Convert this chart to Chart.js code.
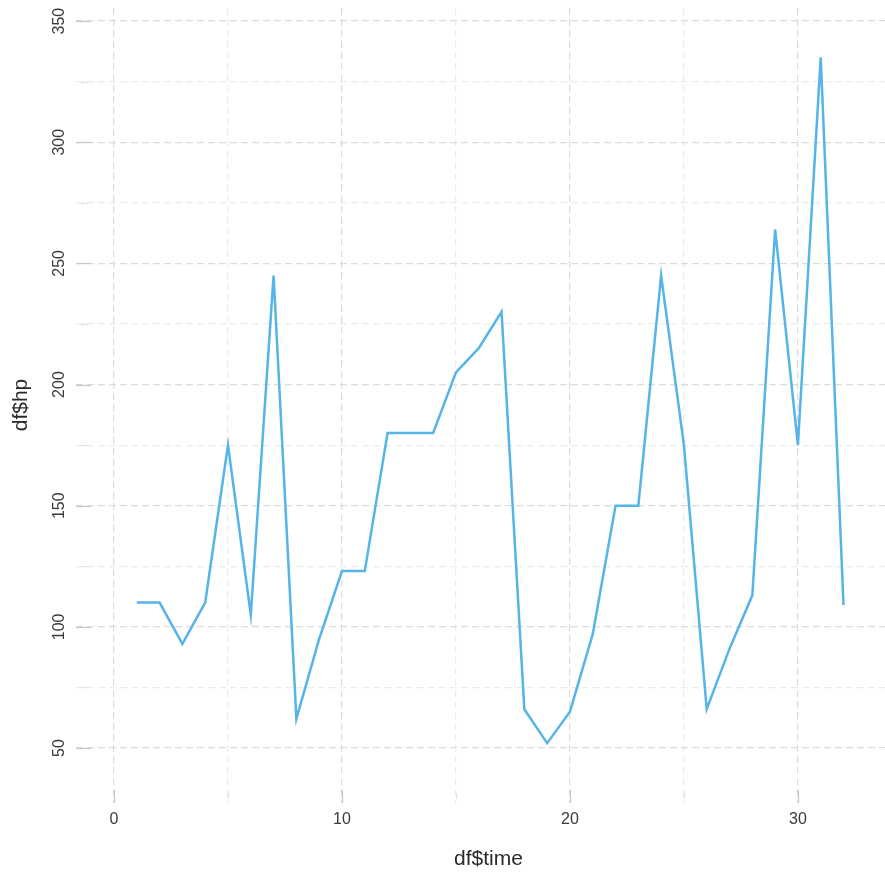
<!DOCTYPE html>
<html><head><meta charset="utf-8">
<script src="https://cdn.jsdelivr.net/npm/chart.js@4/dist/chart.umd.min.js"></script>
<style>html,body{margin:0;padding:0;background:#fff}#wrap{width:885px;height:873px}</style>
</head><body><div id="wrap"><canvas id="c" width="885" height="873"></canvas></div>
<script>
const time = [1,2,3,4,5,6,7,8,9,10,11,12,13,14,15,16,17,18,19,20,21,22,23,24,25,26,27,28,29,30,31,32];
const hp = [110,110,93,110,175,105,245,62,95,123,123,180,180,180,205,215,230,66,52,65,97,150,150,245,175,66,91,113,264,175,335,109];
const xTicks = [0,10,20,30];
const yTicks = [50,100,150,200,250,300,350];
const xTitle = 'df$time';
const yTitle = 'df$hp';

const FONT = '"Liberation Sans", Arial, sans-serif';

const decor = {
  id: 'decor',
  beforeDatasetsDraw(chart) {
    const ctx = chart.ctx, a = chart.chartArea, xs = chart.scales.x, ys = chart.scales.y;
    ctx.save();
    ctx.setLineDash([]);
    for (let v = 25; v <= 350; v += 25) {
      const y = Math.round(ys.getPixelForValue(v)) + 0.5;
      if (y < a.top || y > a.bottom) continue;
      const major = v % 50 === 0;
      ctx.strokeStyle = major ? '#c8c8c8' : '#e2e2e2';
      ctx.lineWidth = 1.2;
      ctx.beginPath();
      ctx.moveTo(a.left + (major ? 0 : 5), y);
      ctx.lineTo(a.left + (major ? 15 : 12), y);
      ctx.stroke();
    }
    for (let v = 0; v <= 35; v += 5) {
      const x = Math.round(xs.getPixelForValue(v)) + 0.5;
      if (x < a.left || x > a.right) continue;
      const major = v % 10 === 0;
      ctx.strokeStyle = major ? '#c8c8c8' : '#e2e2e2';
      ctx.lineWidth = 1.2;
      ctx.beginPath();
      ctx.moveTo(x, a.bottom - (major ? 13 : 10));
      ctx.lineTo(x, a.bottom - (major ? 0 : 4));
      ctx.stroke();
    }
    ctx.restore();
  },
  afterDraw(chart) {
    const ctx = chart.ctx, xs = chart.scales.x, ys = chart.scales.y;
    ctx.save();
    ctx.fillStyle = '#3a3a3a';
    ctx.font = '16px ' + FONT;
    ctx.textAlign = 'center';
    ctx.textBaseline = 'middle';
    xTicks.forEach(v => ctx.fillText(String(v), xs.getPixelForValue(v), 820));
    yTicks.forEach(v => {
      ctx.save();
      ctx.translate(60, ys.getPixelForValue(v));
      ctx.rotate(-Math.PI / 2);
      ctx.fillText(String(v), 0, 0);
      ctx.restore();
    });
    ctx.font = '21px ' + FONT;
    ctx.fillStyle = '#2a2a2a';
    ctx.fillText(xTitle, 488.5, 859);
    ctx.save();
    ctx.translate(21, 405);
    ctx.rotate(-Math.PI / 2);
    ctx.fillText(yTitle, 0, 0);
    ctx.restore();
    ctx.restore();
  }
};

new Chart(document.getElementById('c'), {
  type: 'scatter',
  data: {
    datasets: [{
      data: time.map((t, i) => ({x: t, y: hp[i]})),
      showLine: true,
      borderColor: '#56B4E9',
      borderWidth: 2.5,
      pointRadius: 0,
      tension: 0,
      fill: false
    }]
  },
  options: {
    responsive: false,
    animation: false,
    devicePixelRatio: 1,
    layout: { padding: { left: 76, right: 0, top: 8, bottom: 70 } },
    plugins: { legend: { display: false }, tooltip: { enabled: false } },
    scales: {
      x: {
        type: 'linear', min: -1.667, max: 33.82,
        afterBuildTicks: s => { s.ticks = [0,5,10,15,20,25,30].map(v => ({value: v})); },
        ticks: { display: false },
        grid: {
          drawTicks: false,
          color: c => (c.tick && c.tick.value % 10 === 0) ? '#dcdcdc' : '#ececec',
          lineWidth: 1.2
        },
        border: { display: false, dash: [7, 4] }
      },
      y: {
        type: 'linear', min: 27.3, max: 355.4,
        afterBuildTicks: s => { const t = []; for (let v = 50; v <= 350; v += 25) t.push({value: v}); s.ticks = t; },
        ticks: { display: false },
        grid: {
          drawTicks: false,
          color: c => (c.tick && c.tick.value % 50 === 0) ? '#dcdcdc' : '#ececec',
          lineWidth: 1.2
        },
        border: { display: false, dash: [7, 4] }
      }
    }
  },
  plugins: [decor]
});
</script>
</body></html>
